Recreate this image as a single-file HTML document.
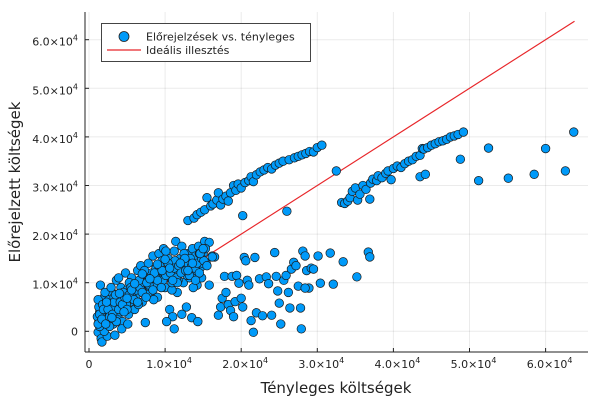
<!DOCTYPE html>
<html><head><meta charset="utf-8"><style>
html,body{margin:0;padding:0;background:#fff}
svg{display:block;font-family:"DejaVu Sans","Liberation Sans",sans-serif}
</style></head><body>
<svg id="chart" width="600" height="400" viewBox="0 0 600 400">
<g id="grid"></g>
<g id="axes"></g>
<g id="line"></g>
<g id="pts"></g>
<text x="336" y="393" font-size="15" text-anchor="middle" fill="#222">Tényleges költségek</text>
<text transform="translate(20,182) rotate(-90)" font-size="15" text-anchor="middle" fill="#222">Előrejelzett költségek</text>
<g>
<rect x="101.5" y="23.5" width="209" height="38" fill="#fff" stroke="#444" stroke-width="1"/>
<circle cx="124" cy="36.5" r="5" fill="#009af9" stroke="#222" stroke-width="0.8"/>
<text x="146" y="40.5" font-size="11" fill="#222">Előrejelzések vs. tényleges</text>
<line x1="107" y1="50" x2="141" y2="50" stroke="#e8262a" stroke-width="1.2"/>
<text x="146" y="54" font-size="11" fill="#222">Ideális illesztés</text>
</g>
</svg>
<script>
const xTicks=[0,10000,20000,30000,40000,50000,60000];
const yTicks=[0,10000,20000,30000,40000,50000,60000];
const tickMantissa=["0","1.0","2.0","3.0","4.0","5.0","6.0"];
const idealLine=[1100,63800];
const actualK=[1.2,1.3,1.4,1.5,1.3,1.6,1.7,1.8,1.9,2.0,1.5,2.2,2.4,2.5,2.6,2.8,3.0,3.2,3.4,3.5,3.6,3.8,4.0,4.2,4.4,4.6,4.8,5.0,5.2,5.4,5.6,5.8,6.0,6.2,6.4,6.6,6.8,7.0,7.2,7.4,7.6,7.8,8.0,8.2,8.4,8.6,8.8,9.0,9.2,9.4,9.6,9.8,10.0,10.2,10.4,10.6,10.8,11.0,11.2,11.4,11.6,11.8,12.0,12.2,12.4,12.6,12.8,13.0,13.2,13.4,13.6,13.8,14.0,14.2,14.4,14.6,14.8,15.0,15.2,15.4,15.8,16.2,16.5,11.2,11.0,12.2,13.5,14.3,10.2,2.0,2.3,2.7,3.0,3.3,3.7,4.1,4.5,4.9,5.3,5.7,6.1,6.5,6.9,7.3,7.7,8.1,8.5,8.9,9.3,9.7,10.1,10.5,10.9,11.3,11.7,12.1,12.5,12.9,13.3,13.7,14.1,14.5,14.9,15.3,1.1,1.2,1.4,1.6,1.8,2.1,2.9,3.9,4.3,5.1,
1.2,1.4,1.7,1.9,2.2,2.5,2.7,3.1,3.3,3.6,3.9,4.1,4.4,4.7,5.0,5.3,5.5,5.9,6.2,6.4,6.7,7.0,7.3,7.5,7.9,8.2,8.4,8.7,9.0,9.2,9.5,9.9,10.1,10.4,10.7,10.9,11.2,11.5,11.8,12.1,12.4,12.7,13.0,13.2,13.5,13.9,14.2,14.5,14.8,15.1,15.5,2.3,3.5,4.6,5.6,6.6,7.6,8.6,9.6,10.6,11.6,12.6,13.6,14.6,3.0,4.0,5.0,6.0,7.0,8.0,9.0,10.0,11.0,12.0,13.0,14.0,15.0,
13,13.8,14.2,14.7,15.2,15.5,16,16.3,16.8,17,17.3,17.6,18,18.3,18.6,19,19.3,19.6,20,20.2,20.5,21,21.3,21.6,22,22.5,23,23.5,24,24.5,25,25.5,26,26.3,27,27.5,28,28.5,29,29.5,30,30.6,
32.5,33.2,33.6,34,34.3,34.6,35,35.3,35.6,36,36.4,36.9,37,37.3,37.8,38,38.5,39,39.3,39.7,40,40.5,41,41.5,42,42.5,43,43.5,43.8,44,44.5,45,45.5,46,46.5,47,47.5,48,48.5,49.2,48.8,43.5,44.2,
15.8,16.2,17,17.3,17.5,17.8,18,18.3,18.6,18.8,19,19.2,19.4,19.7,20,20.2,20.4,20.6,20.8,21,21.3,21.6,21.8,22,22.4,22.8,23.3,23.6,24,24.4,24.6,24.8,25,25.2,25.6,25.9,26.2,26.4,26.6,26.9,27.2,27.5,27.8,28.1,28.4,28.6,28.9,29.2,29.5,27.9,28.4,35.2,32.1,30.4,33.4,31.7,30.1,36.7,36.9,
51.2,52.5,55.1,58.5,60,62.6,63.7];
const predictedK=[-0.2,2,4,6,5,-1.5,-2.2,1,3,7,9.5,5,-1,2.5,6.5,4,8,1.5,-0.8,5.5,10.5,3,7,9,2,5,12,8.5,3.5,6,11,9.5,4.5,7.5,12.5,10,13.5,6,9,1.8,11.5,14,8,12,15.5,10,13,7,16,11,14.5,17,9,12.5,15,4.5,11,13.5,16.5,18.5,8,12,15,17.5,10,13,5,16,11,14,17,12,15.5,9.5,17.5,13,11,16,18.5,14,18.3,15.5,15.3,0.5,3,3.5,2.8,2,2,0,3.5,1,5,7,6,4,8,5.5,10,7,9,5.5,8.5,12.5,7.5,10.5,6.5,9.5,13.5,10.5,16.5,13,8.5,14.5,10.5,13,16,11.5,15,9,12.5,16,14,17,3,6.5,1,3.5,5.5,8,9,11,0.5,1.5,
1.5,3.5,2.5,4.5,1.5,4.5,3,3.5,6,2,4.5,6,5.5,7,4.5,7.5,9,6.5,8.5,6,9,8,10,7,9.5,11,8.5,11.5,10.5,12.5,9,12,11.5,14,12,10,13,11,13.5,12,14.5,12.5,14,11.5,13.5,13,14,12,15,14.5,13.5,6,7.5,4,8.5,10.5,10,12,12.5,13,10,15,14,16,2.8,7.8,6.8,9.8,11.8,10.8,13.8,14.8,10.5,14,12.5,10.5,17,
22.8,23.3,24,24.5,25,27.5,25.8,26.2,27,28.5,26,27.2,27.8,26.8,28.5,30,29,30.3,29.5,23.8,30.6,31,31.8,30.8,32.2,32.8,33.2,33.7,33.4,34.2,34.6,35,24.7,35.3,35.7,36,36.3,36.6,37,36.9,37.8,38.3,
33,26.5,26.3,26.8,27.5,28.8,29.5,27,28.2,30,29.2,27.2,30.5,31.3,31,32,31.6,32.5,33,31.2,33.5,34,33.7,34.5,35,35.3,36,36.2,37.6,37.5,37.8,38.3,38.6,39,39.2,39.5,40,40.2,40.5,41,35.4,31.8,32.3,
9.5,15.3,3.3,5,6.8,11.3,8,5.5,4.3,11.3,3,6.1,11.5,9.9,6.8,5,15.2,14.5,10.5,9.5,2.2,-0.2,15.2,3.8,10.8,3.2,11.2,9.8,3.3,16.2,11.3,8.3,5.8,1.5,10.5,11.5,8,4.8,12.8,14.2,13.5,9.3,4.8,16.5,15.5,12.5,8.9,13,12.8,0.5,8.9,11.2,9.7,9.9,14.3,16.1,15.5,16.3,15.3,
31,37.7,31.5,32.3,37.6,33,41];
const L=85,R=588,T=12,B=352;
const X0=89,XS=76.1/10000,Y0=331.3,YS=48.6/10000;
const sx=v=>X0+v*XS, sy=v=>Y0-v*YS;
const NS="http://www.w3.org/2000/svg";
function mk(tag,attrs,parent){const e=document.createElementNS(NS,tag);for(const k in attrs)e.setAttribute(k,attrs[k]);parent.appendChild(e);return e;}
const grid=document.getElementById('grid'),axes=document.getElementById('axes');
xTicks.forEach((t,i)=>{
  const g=mk('line',{x1:sx(t),x2:sx(t),y1:T,y2:B,stroke:'#000','stroke-opacity':0.08,'stroke-width':1},grid);
  
  
  mk('line',{x1:sx(t),x2:sx(t),y1:B,y2:B-4,stroke:'#222'},axes);
  const tx=mk('text',{x:sx(t),y:B+16,'font-size':11,'text-anchor':'middle',fill:'#222'},axes);
  
  
  if(i===0){tx.textContent='0';}
  else{tx.setAttribute('x',sx(t)+4);tx.appendChild(document.createTextNode(tickMantissa[i]+'×10'));const s=mk('tspan',{dy:-5,'font-size':8},tx);s.textContent='4';}
});
yTicks.forEach((t,i)=>{
  const g=mk('line',{x1:L,x2:R,y1:sy(t),y2:sy(t),stroke:'#000','stroke-opacity':0.08,'stroke-width':1},grid);
  
  
  mk('line',{x1:L,x2:L+4,y1:sy(t),y2:sy(t),stroke:'#222'},axes);
  const tx=mk('text',{x:78,y:sy(t)+4,'font-size':11,'text-anchor':'end',fill:'#222'},axes);
  
  
  if(i===0){tx.textContent='0';}
  else{tx.setAttribute('y',sy(t)+6);tx.appendChild(document.createTextNode(tickMantissa[i]+'×10'));const s=mk('tspan',{dy:-5,'font-size':8},tx);s.textContent='4';}
});
const ax1=mk('line',{x1:L,x2:L,y1:T,y2:B,stroke:'#222','stroke-width':1},axes);


const ax2=mk('line',{x1:L,x2:R,y1:B,y2:B,stroke:'#222','stroke-width':1},axes);


const ln=mk('line',{x1:sx(idealLine[0]),y1:sy(idealLine[0]),x2:sx(idealLine[1]),y2:sy(idealLine[1]),stroke:'#e8262a','stroke-width':1.2},document.getElementById('line'));


const pts=document.getElementById('pts');
const n=Math.min(actualK.length,predictedK.length);
for(let i=0;i<n;i++){
  const c=mk('circle',{cx:sx(actualK[i]*1000),cy:sy(predictedK[i]*1000),r:4.3,fill:'#009af9',stroke:'#1a1a1a','stroke-width':0.7},pts);
  
  
}
</script>
</body></html>
